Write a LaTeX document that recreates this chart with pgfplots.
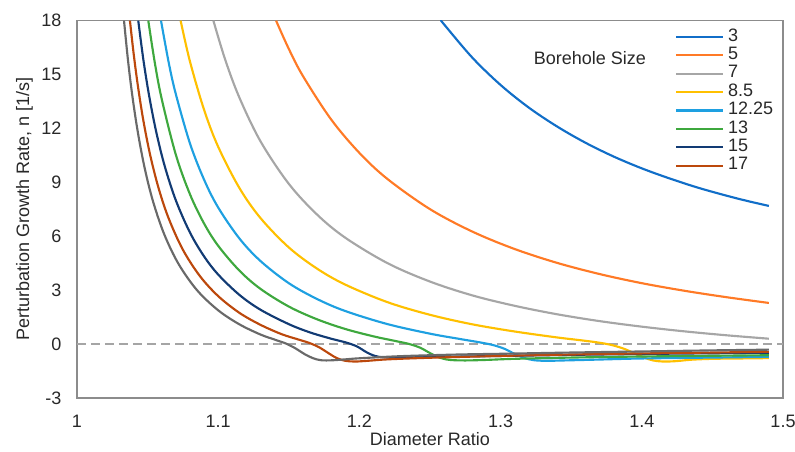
\documentclass[border=0pt]{standalone}
\usepackage{fontspec}
\setmainfont{Liberation Sans}
\usepackage{pgfplots}
\pgfplotsset{compat=1.18}

\definecolor{cThree}{RGB}{17,110,200}
\definecolor{cFive}{RGB}{255,122,38}
\definecolor{cSeven}{RGB}{166,166,166}
\definecolor{cEight}{RGB}{255,192,0}
\definecolor{cTwelve}{RGB}{30,160,225}
\definecolor{cThirteen}{RGB}{62,168,62}
\definecolor{cFifteen}{RGB}{18,59,116}
\definecolor{cSeventeen}{RGB}{188,72,12}
\definecolor{cTwenty}{RGB}{105,105,105}
\definecolor{axisgray}{RGB}{140,140,140}
\definecolor{dashgray}{RGB}{165,165,165}
\definecolor{labelgray}{RGB}{40,40,40}

\newcommand{\chartfont}{\fontsize{13.5}{16}\selectfont}

\begin{document}
\begin{tikzpicture}
\begin{axis}[
  scale only axis,
  width=529.5pt, height=283pt,
  xmin=1, xmax=1.5, ymin=-3, ymax=18,
  xtick={1,1.1,1.2,1.3,1.4,1.5},
  xticklabels={1,1.1,1.2,1.3,1.4,1.5},
  ytick={-3,0,3,6,9,12,15,18},
  yticklabels={-3,0,3,6,9,12,15,18},
  tick style={draw=none},
  major tick length=0pt,
  axis line style={draw=axisgray, line width=1.2pt},
  tick label style={font=\chartfont, text=labelgray},
  xticklabel style={anchor=north, inner sep=0pt, yshift=-12.75pt},
  yticklabel style={anchor=east, inner sep=0pt, xshift=-11.5pt},
  xlabel={Diameter Ratio},
  ylabel={Perturbation Growth Rate, n [1/s]},
  label style={font=\chartfont, text=labelgray},
  xlabel style={at={(axis description cs:0.5,-0.0901)}, anchor=north, inner sep=0pt},
  ylabel style={at={(axis description cs:-0.062,0.5)}, anchor=south, inner sep=0pt},
  legend image code/.code={\draw[#1] (0pt,0pt) -- (35pt,0pt);},
  legend cell align=left,
  legend style={
    at={(axis description cs:0.847,0.982)}, anchor=north west,
    draw=none, fill=none, inner sep=0pt, row sep=0pt,
    font=\chartfont, text=labelgray,
    nodes={inner sep=0pt, text height=10pt, text depth=3.8pt},
    /tikz/every odd column/.style={column sep=3pt},
  },
  every axis plot/.append style={line width=1.6pt, line join=round, smooth, tension=0.55},
]

% zero reference line
\addplot[forget plot, draw=dashgray, line width=1.1pt, dash pattern=on 6.75pt off 3.75pt, sharp plot]
  coordinates {(1,0) (1.5,0)};

% borehole size 3
\addplot[cThree] coordinates {
 (1.258,18.00) (1.26,17.79) (1.28,15.94) (1.30,14.42) (1.32,13.16) (1.34,12.11)
 (1.36,11.21) (1.38,10.44) (1.40,9.78) (1.42,9.21) (1.44,8.70) (1.46,8.26)
 (1.475,7.96) (1.49,7.69)};
\addlegendentry{3}

% borehole size 5
\addplot[cFive] coordinates {
 (1.141,18.00) (1.15,16.43) (1.16,14.92) (1.18,12.50) (1.20,10.64) (1.22,9.18)
 (1.25,7.51) (1.28,6.26) (1.31,5.29) (1.34,4.52) (1.37,3.90) (1.40,3.39)
 (1.43,2.97) (1.46,2.61) (1.49,2.29)};
\addlegendentry{5}

% borehole size 7
\addplot[cSeven] coordinates {
 (1.0966,18.00) (1.105,15.82) (1.115,13.72) (1.13,11.28) (1.15,8.92) (1.17,7.21)
 (1.19,5.92) (1.22,4.50) (1.25,3.48) (1.28,2.71) (1.31,2.13) (1.34,1.66)
 (1.37,1.28) (1.40,0.97) (1.43,0.71) (1.46,0.49) (1.49,0.30)};
\addlegendentry{7}

% borehole size 8.5
\addplot[cEight] coordinates {
 (1.0734,18.00) (1.08,15.73) (1.09,13.04) (1.10,10.98) (1.115,8.69) (1.13,7.01)
 (1.15,5.38) (1.17,4.20) (1.19,3.31) (1.22,2.33) (1.25,1.63) (1.28,1.10)
 (1.31,0.70) (1.34,0.37) (1.355,0.23) (1.368,0.10) (1.378,-0.04) (1.387,-0.25)
 (1.395,-0.52) (1.402,-0.76) (1.408,-0.91) (1.415,-0.97) (1.424,-0.95)
 (1.435,-0.87) (1.45,-0.82) (1.47,-0.80) (1.49,-0.78)};
\addlegendentry{8.5}

% borehole size 12.25
\addplot[cTwelve] coordinates {
 (1.0595,18.00) (1.065,15.65) (1.07,13.91) (1.08,11.17) (1.09,9.15) (1.10,7.60)
 (1.115,5.88) (1.13,4.62) (1.15,3.39) (1.17,2.51) (1.19,1.84) (1.22,1.11)
 (1.25,0.58) (1.27,0.30) (1.285,0.10) (1.295,-0.06) (1.303,-0.27) (1.31,-0.55)
 (1.317,-0.78) (1.324,-0.90) (1.333,-0.93) (1.345,-0.91) (1.37,-0.86)
 (1.40,-0.80) (1.45,-0.75) (1.49,-0.71)};
\addlegendentry{12.25}

% borehole size 13
\addplot[cThirteen] coordinates {
 (1.0505,18.00) (1.055,15.71) (1.06,13.64) (1.07,10.54) (1.08,8.34) (1.09,6.71)
 (1.10,5.47) (1.115,4.09) (1.13,3.07) (1.15,2.09) (1.17,1.38) (1.19,0.84)
 (1.21,0.43) (1.225,0.18) (1.235,0.01) (1.243,-0.20) (1.25,-0.50) (1.257,-0.76)
 (1.264,-0.88) (1.275,-0.91) (1.29,-0.88) (1.31,-0.82) (1.35,-0.75)
 (1.40,-0.69) (1.45,-0.65) (1.49,-0.62)};
\addlegendentry{13}

% borehole size 15
\addplot[cFifteen] coordinates {
 (1.0434,18.00) (1.047,15.83) (1.051,13.86) (1.056,11.85) (1.062,9.94) (1.07,8.00)
 (1.08,6.21) (1.09,4.88) (1.10,3.87) (1.115,2.74) (1.13,1.91) (1.15,1.11)
 (1.165,0.65) (1.18,0.30) (1.19,0.10) (1.198,-0.12) (1.205,-0.45) (1.211,-0.66)
 (1.218,-0.74) (1.23,-0.74) (1.25,-0.72) (1.30,-0.66) (1.35,-0.60)
 (1.40,-0.55) (1.45,-0.51) (1.49,-0.48)};
\addlegendentry{15}

% borehole size 17
\addplot[cSeventeen] coordinates {
 (1.0375,18.00) (1.04,16.24) (1.043,14.44) (1.047,12.44) (1.052,10.46) (1.058,8.62)
 (1.065,6.98) (1.075,5.25) (1.087,3.79) (1.10,2.67) (1.115,1.74) (1.13,1.07)
 (1.145,0.55) (1.157,0.25) (1.165,0.05) (1.172,-0.20) (1.178,-0.50) (1.184,-0.78)
 (1.19,-0.93) (1.197,-0.97) (1.206,-0.93) (1.22,-0.85) (1.25,-0.76)
 (1.30,-0.66) (1.35,-0.58) (1.40,-0.52) (1.45,-0.47) (1.49,-0.43)};
\addlegendentry{17}

% largest borehole, drawn without a legend entry
\addplot[cTwenty, forget plot] coordinates {
 (1.0333,18.00) (1.036,15.88) (1.039,13.93) (1.043,11.83) (1.048,9.77) (1.054,7.90)
 (1.062,6.07) (1.072,4.45) (1.085,3.00) (1.10,1.88) (1.115,1.10) (1.13,0.53)
 (1.14,0.25) (1.148,0.03) (1.155,-0.25) (1.161,-0.55) (1.167,-0.78) (1.173,-0.90)
 (1.181,-0.90) (1.19,-0.85) (1.20,-0.79) (1.23,-0.67) (1.27,-0.58) (1.30,-0.54)
 (1.35,-0.47) (1.40,-0.41) (1.45,-0.35) (1.49,-0.31)};

\node[font=\chartfont, text=labelgray, inner sep=0pt, anchor=center]
  at (axis cs:1.3633,15.93) {Borehole Size};
\end{axis}
\pgfresetboundingbox
\path ([xshift=-57.75pt,yshift=-40.5pt]current axis.south west)
  rectangle ([xshift=9pt,yshift=15.5pt]current axis.north east);
\end{tikzpicture}
\end{document}
